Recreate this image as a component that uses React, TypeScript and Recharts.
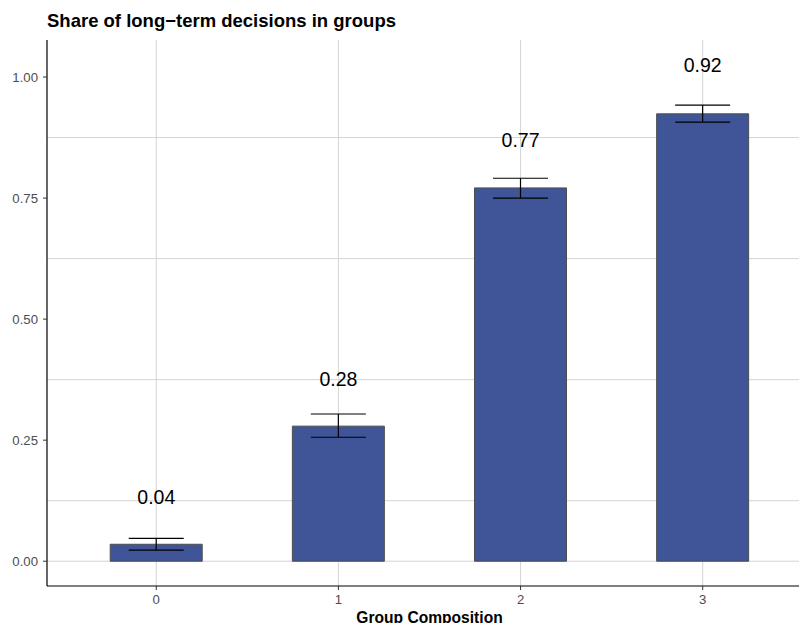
import React from 'react'
import {
  ComposedChart,
  Bar,
  Line,
  ErrorBar,
  LabelList,
  XAxis,
  YAxis,
  CartesianGrid
} from 'recharts'

const groups = [0, 1, 2, 3]
const shares = [0.035, 0.279, 0.771, 0.924]
const lowerCI = [0.023, 0.256, 0.75, 0.907]
const upperCI = [0.047, 0.304, 0.791, 0.942]
const labels = ['0.04', '0.28', '0.77', '0.92']
const labelY = [0.132, 0.376, 0.87, 1.025]
const yTicks = [0, 0.25, 0.5, 0.75, 1]
const yMinor = [0.125, 0.375, 0.625, 0.875]

const FONT = '"Liberation Sans", Arial, Helvetica, sans-serif'
const BAR_FILL = '#3f5597'

const data = groups.map((g, i) => ({
  group: g,
  share: shares[i],
  err: [shares[i] - lowerCI[i], upperCI[i] - shares[i]],
  labelY: labelY[i],
  label: labels[i]
}))

function ValueLabel(props: any) {
  const { x, y, value } = props
  return (
    <text x={x} y={y} dy="0.36em" textAnchor="middle" fontSize={19.5} fill="#000" fontFamily={FONT}>
      {value}
    </text>
  )
}

export default function App(): React.ReactElement {
  return (
    <div
      style={{
        position: 'fixed',
        left: 0,
        top: 0,
        width: 799,
        height: 623,
        overflow: 'hidden',
        background: '#fff',
        fontFamily: FONT
      }}
    >
      <div
        style={{
          position: 'absolute',
          left: 47,
          top: 12,
          fontSize: 18.5,
          lineHeight: 1,
          fontWeight: 'bold',
          color: '#000',
          whiteSpace: 'nowrap'
        }}
      >
        Share of long−term decisions in groups
      </div>
      <div style={{ position: 'absolute', left: 0, top: 0 }}>
        <ComposedChart
          width={830}
          height={623}
          data={data}
          margin={{ top: 40, right: 18, left: 0, bottom: 0 }}
        >
          <CartesianGrid
            stroke="#d4d4d4"
            strokeWidth={1}
            horizontalValues={[...yTicks, ...yMinor]}
            verticalValues={groups}
          />
          <XAxis
            dataKey="group"
            type="number"
            domain={[-0.6, 3.6]}
            ticks={groups}
            height={37}
            interval={0}
            allowDataOverflow
            axisLine={{ stroke: '#000', strokeWidth: 1.2 }}
            tickLine={{ stroke: '#333' }}
            tickSize={4}
            tickMargin={5}
            tick={{ fill: '#4d4d4d', fontSize: 13.2, fontFamily: FONT }}
          />
          <YAxis
            type="number"
            domain={[-0.0512, 1.0765]}
            ticks={yTicks}
            width={47}
            allowDataOverflow
            tickFormatter={(v: number) => v.toFixed(2)}
            axisLine={{ stroke: '#000', strokeWidth: 1.2 }}
            tickLine={{ stroke: '#333' }}
            tickSize={4}
            tickMargin={5}
            tick={{ fill: '#4d4d4d', fontSize: 13.2, fontFamily: FONT }}
          />
          <Bar
            dataKey="share"
            barSize={92}
            fill={BAR_FILL}
            stroke="#4d4d4d"
            strokeWidth={1}
            isAnimationActive={false}
          >
            <ErrorBar dataKey="err" direction="y" width={27.5} stroke="#000" strokeWidth={1.2} />
          </Bar>
          <Line
            dataKey="labelY"
            stroke="none"
            dot={false}
            activeDot={false}
            isAnimationActive={false}
          >
            <LabelList dataKey="label" content={<ValueLabel />} />
          </Line>
        </ComposedChart>
      </div>
      <div
        style={{
          position: 'absolute',
          left: 429.5,
          top: 609.5,
          transform: 'translateX(-50%)',
          fontSize: 15.6,
          lineHeight: 1,
          fontWeight: 'bold',
          color: '#000',
          whiteSpace: 'nowrap'
        }}
      >
        Group Composition
      </div>
    </div>
  )
}
